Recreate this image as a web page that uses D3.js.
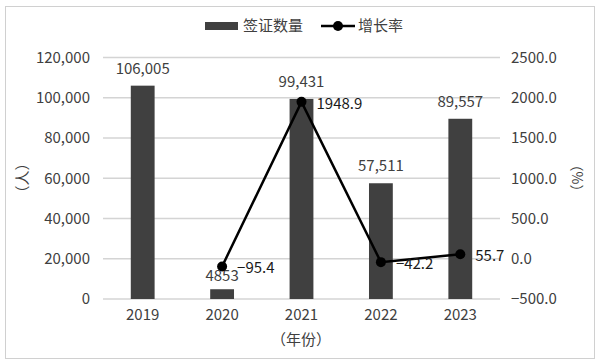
<!DOCTYPE html>
<html>
<head>
<meta charset="utf-8">
<script src="https://d3js.org/d3.v7.min.js"></script>
<style>
body { margin: 0; background: #fff; }
text { font-family: "Noto Sans CJK SC", "Noto Sans", sans-serif; fill: #404040; }
</style>
</head>
<body>
<div id="chart-area"></div>
<script>
// data
var years = ["2019", "2020", "2021", "2022", "2023"];
var visas = [106005, 4853, 99431, 57511, 89557];
var visaLabels = ["106,005", "4853", "99,431", "57,511", "89,557"];
var growth = [null, -95.4, 1948.9, -42.2, 55.7];
var leftTicks = [0, 20000, 40000, 60000, 80000, 100000, 120000];
var rightTicks = [-500, 0, 500, 1000, 1500, 2000, 2500];

var W = 600, H = 364;
var margin = { left: 103, right: 100, top: 57.5, bottom: 65 };
var width = W - margin.left - margin.right,
    height = H - margin.top - margin.bottom;

var svg = d3.select("#chart-area").append("svg")
    .attr("width", W)
    .attr("height", H);

// outer frame
svg.append("rect")
    .attr("x", 5.5).attr("y", 6.5)
    .attr("width", 589).attr("height", 352)
    .attr("fill", "#fff")
    .attr("stroke", "#d0d0d0");

var g = svg.append("g")
    .attr("transform", "translate(" + margin.left + "," + margin.top + ")");

// scales
var x = d3.scaleBand().domain(years).range([0, width]).paddingInner(0.7).paddingOuter(0.35);
var y = d3.scaleLinear().domain([0, 120000]).range([height, 0]);
var y2 = d3.scaleLinear().domain([-500, 2500]).range([height, 0]);

// gridlines
g.selectAll(".grid").data(leftTicks).enter().append("line")
    .attr("x1", 0).attr("x2", width)
    .attr("y1", function(d) { return y(d); })
    .attr("y2", function(d) { return y(d); })
    .attr("stroke", "#d4d4d4")
    .attr("stroke-width", 1.3);

// left axis
var yAxis = g.append("g")
    .call(d3.axisLeft(y).tickValues(leftTicks).tickSize(0).tickPadding(13)
        .tickFormat(d3.format(",")));
yAxis.select(".domain").remove();
yAxis.selectAll("text").attr("font-size", 15).attr("fill", "#404040");

// right axis
var yAxis2 = g.append("g")
    .attr("transform", "translate(" + width + ",0)")
    .call(d3.axisRight(y2).tickValues(rightTicks).tickSize(0).tickPadding(11)
        .tickFormat(d3.format(".1f")));
yAxis2.select(".domain").remove();
yAxis2.selectAll("text").attr("font-size", 15).attr("fill", "#404040");

// x axis
var xAxis = g.append("g")
    .attr("transform", "translate(0," + height + ")")
    .call(d3.axisBottom(x).tickSize(0).tickPadding(10));
xAxis.select(".domain").remove();
xAxis.selectAll("text").attr("font-size", 15).attr("fill", "#404040");

// bars
g.selectAll(".bar").data(visas).enter().append("rect")
    .attr("x", function(d, i) { return x(years[i]); })
    .attr("y", function(d) { return y(d); })
    .attr("width", x.bandwidth())
    .attr("height", function(d) { return height - y(d); })
    .attr("fill", "#404040");

// bar labels
g.selectAll(".blabel").data(visas).enter().append("text")
    .attr("x", function(d, i) { return x(years[i]) + x.bandwidth() / 2; })
    .attr("y", function(d) { return y(d) - (d < 10000 ? 8 : 12); })
    .attr("text-anchor", "middle")
    .attr("font-size", 15)
    .text(function(d, i) { return visaLabels[i]; });

// line
var pts = years.map(function(yr, i) { return { yr: yr, v: growth[i] }; })
    .filter(function(d) { return d.v !== null; });

var line = d3.line()
    .x(function(d) { return x(d.yr) + x.bandwidth() / 2; })
    .y(function(d) { return y2(d.v); });

g.append("path")
    .attr("d", line(pts))
    .attr("fill", "none")
    .attr("stroke", "#000")
    .attr("stroke-width", 2.5);

g.selectAll(".dot").data(pts).enter().append("circle")
    .attr("cx", function(d) { return x(d.yr) + x.bandwidth() / 2; })
    .attr("cy", function(d) { return y2(d.v); })
    .attr("r", 5)
    .attr("fill", "#000");

g.selectAll(".llabel").data(pts).enter().append("text")
    .attr("x", function(d) { return x(d.yr) + x.bandwidth() / 2 + 15; })
    .attr("y", function(d) { return y2(d.v) + 7; })
    .attr("font-size", 15)
    .style("fill", "#1a1a1a")
    .text(function(d) { return d3.format(".1f")(d.v); });

// axis titles
svg.append("text")
    .attr("transform", "translate(28,178) rotate(-90)")
    .attr("text-anchor", "middle")
    .attr("font-size", 15)
    .text("（人）");
svg.append("text")
    .attr("transform", "translate(572,178) rotate(90)")
    .attr("text-anchor", "middle")
    .attr("font-size", 14)
    .text("（%）");
svg.append("text")
    .attr("x", 301).attr("y", 345)
    .attr("text-anchor", "middle")
    .attr("font-size", 15)
    .text("（年份）");

// legend
var leg = svg.append("g");
leg.append("rect")
    .attr("x", 205).attr("y", 22).attr("width", 33).attr("height", 8)
    .attr("fill", "#404040");
leg.append("text")
    .attr("x", 243).attr("y", 31)
    .attr("font-size", 15)
    .text("签证数量");
leg.append("line")
    .attr("x1", 321).attr("x2", 355).attr("y1", 26).attr("y2", 26)
    .attr("stroke", "#000").attr("stroke-width", 2.5);
leg.append("circle")
    .attr("cx", 338).attr("cy", 26).attr("r", 5).attr("fill", "#000");
leg.append("text")
    .attr("x", 358).attr("y", 31)
    .attr("font-size", 15)
    .text("增长率");
</script>
</body>
</html>
